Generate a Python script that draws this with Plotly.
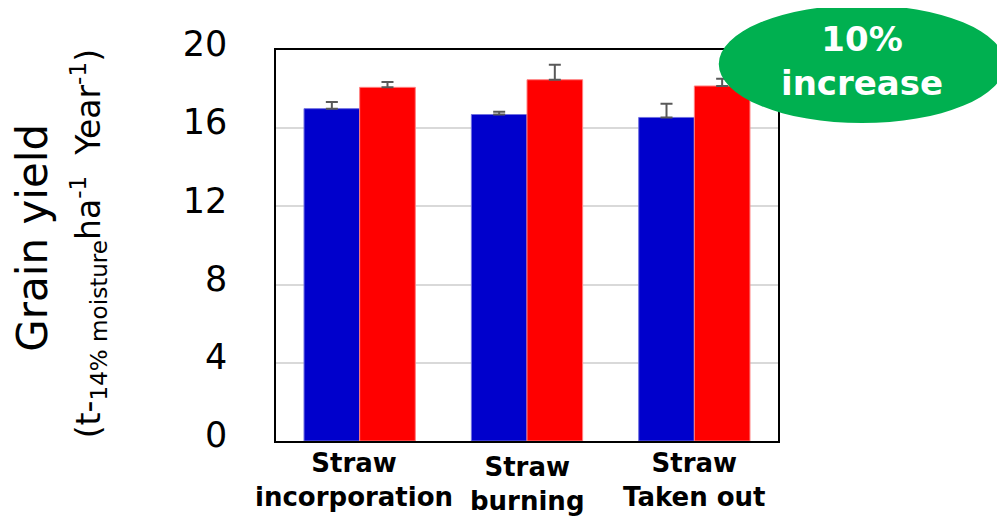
import plotly.graph_objects as go

categories = ["Straw incorporation", "Straw burning", "Straw Taken out"]
cat_labels = ["Straw<br>incorporation", "Straw<br>burning", "Straw<br>Taken out"]
blue_vals = [17.0, 16.7, 16.55]
blue_err = [0.34, 0.14, 0.70]
red_vals = [18.09, 18.48, 18.16]
red_err = [0.27, 0.77, 0.37]
y_ticks = [0, 4, 8, 12, 16, 20]

fig = go.Figure()
fig.add_trace(go.Bar(
    x=categories, y=blue_vals,
    marker=dict(color="#0000CC", line=dict(color="#7070E0", width=1)),
    error_y=dict(type="data", array=blue_err, symmetric=False, arrayminus=[0]*3,
                 color="#595959", thickness=2, width=6),
    showlegend=False,
))
fig.add_trace(go.Bar(
    x=categories, y=red_vals,
    marker=dict(color="#FF0000", line=dict(color="#FF8080", width=1)),
    error_y=dict(type="data", array=red_err, symmetric=False, arrayminus=[0]*3,
                 color="#595959", thickness=2, width=6),
    showlegend=False,
))

# page body has an 8px margin, compensate in the layout margins
fig.update_layout(
    width=1005, height=516,
    margin=dict(l=268, r=235, t=42, b=83),
    paper_bgcolor="white", plot_bgcolor="white",
    barmode="group", bargap=0.335, bargroupgap=0,
    font=dict(family="DejaVu Sans", color="black"),
)
fig.update_xaxes(
    range=[-0.5, 2.5], autorange=False,
    showticklabels=False, showline=True, linecolor="black", linewidth=1.5,
    mirror=True, ticks="", showgrid=False,
)
fig.update_yaxes(
    range=[0, 20], tickvals=y_ticks, ticktext=[str(v) for v in y_ticks],
    tickfont=dict(size=35, family="DejaVu Sans", color="black"),
    showline=True, linecolor="black", linewidth=1.5, mirror=True,
    showgrid=True, gridcolor="#D9D9D9", gridwidth=1.5, ticks="",
    ticklabelstandoff=40, ticklabelshift=-6, zeroline=False,
)

# category labels
yshifts = [0, -4, 0]
for cat, lab, ys in zip(categories, cat_labels, yshifts):
    fig.add_annotation(
        x=cat, xref="x", y=0, yref="paper", yanchor="top", xanchor="center",
        yshift=-5 + ys, xshift=-6 if cat == categories[0] else 0,
        text=f"<b>{lab}</b>", showarrow=False,
        font=dict(size=26, family="DejaVu Sans", color="black"), align="center",
    )

# y-axis title
fig.add_annotation(
    x=-0.484, xref="paper", y=0.52, yref="paper", textangle=-90,
    xanchor="center", yanchor="middle",
    text="Grain yield", showarrow=False,
    font=dict(size=42, family="DejaVu Sans", color="black"),
)
fig.add_annotation(
    x=-0.373, xref="paper", y=0.505, yref="paper", textangle=-90,
    xanchor="center", yanchor="middle",
    text="(t-<sub>14% moisture</sub>ha<sup>-1</sup>  Year<sup>-1</sup>)", showarrow=False,
    font=dict(size=33, family="DejaVu Sans", color="black"),
)

# green ellipse callout
fig.add_shape(
    type="circle", xref="paper", yref="paper",
    x0=0.882, x1=1.452, y0=0.813, y1=1.115,
    fillcolor="#00B050", line=dict(width=0), layer="above",
)
fig.add_annotation(
    x=1.167, xref="paper", y=0.972, yref="paper",
    xanchor="center", yanchor="middle",
    text="<b>10%<br>increase</b>", showarrow=False,
    font=dict(size=34, family="DejaVu Sans", color="white"), align="center",
)

fig.write_html("out.html")
